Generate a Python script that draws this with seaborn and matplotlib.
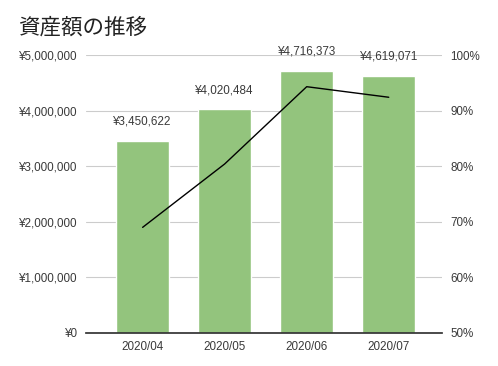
import numpy as np
import pandas as pd
import matplotlib
matplotlib.use("Agg")
import matplotlib.pyplot as plt
import seaborn as sns
from matplotlib.ticker import FuncFormatter

months = ["2020/04", "2020/05", "2020/06", "2020/07"]
assets = [3450622, 4020484, 4716373, 4619071]
ratio = [0.690, 0.804, 0.943, 0.924]

sns.set_theme(style="white")
plt.rcParams["font.family"] = ["Liberation Sans", "Noto Sans CJK JP", "DejaVu Sans"]

df = pd.DataFrame({"month": months, "assets": assets, "ratio": ratio})

fig = plt.figure(figsize=(4.98, 3.66), dpi=100)
ax = fig.add_axes([0.1727, 0.0902, 0.715, 0.7595])

sns.barplot(data=df, x="month", y="assets", color="#93c47d", saturation=1,
            width=0.65, ax=ax, zorder=2)
ax.set_xlim(-0.69, 3.65)
ax.set_ylim(0, 5000000)
ax.set_yticks(np.arange(0, 5000001, 1000000))
ax.yaxis.set_major_formatter(FuncFormatter(lambda v, p: f"¥{int(v):,}"))
ax.grid(axis="y", color="#cccccc", linewidth=0.8, zorder=0)
ax.set_axisbelow(True)
for s in ["top", "left", "right"]:
    ax.spines[s].set_visible(False)
ax.spines["bottom"].set_color("#333333")
ax.set_xlabel("")
ax.set_ylabel("")
ax.tick_params(axis="both", length=0, labelsize=8.4, colors="#3a3a3a", pad=6)

# 棒の上の金額ラベル
for i, v in enumerate(assets):
    ax.text(i, v + 350000, f"¥{v:,}", ha="center", va="center",
            fontsize=8.4, color="#3a3a3a")

ax2 = ax.twinx()
sns.lineplot(x=np.arange(len(months)), y=ratio, color="black", linewidth=1, ax=ax2)
ax2.set_ylim(0.5, 1.0)
ax2.set_yticks(np.arange(0.5, 1.001, 0.1))
ax2.yaxis.set_major_formatter(FuncFormatter(lambda v, p: f"{round(v * 100)}%"))
for s in ["top", "left", "right", "bottom"]:
    ax2.spines[s].set_visible(False)
ax2.tick_params(axis="y", length=0, labelsize=8.4, colors="#3a3a3a", pad=6)
ax2.set_ylabel("")

fig.text(0.036, 0.926, "資産額の推移", fontsize=15.5, color="#222222", va="center", ha="left",
         family=["Noto Sans CJK JP", "DejaVu Sans"])

fig.savefig("out.png", dpi=100, facecolor="white")
